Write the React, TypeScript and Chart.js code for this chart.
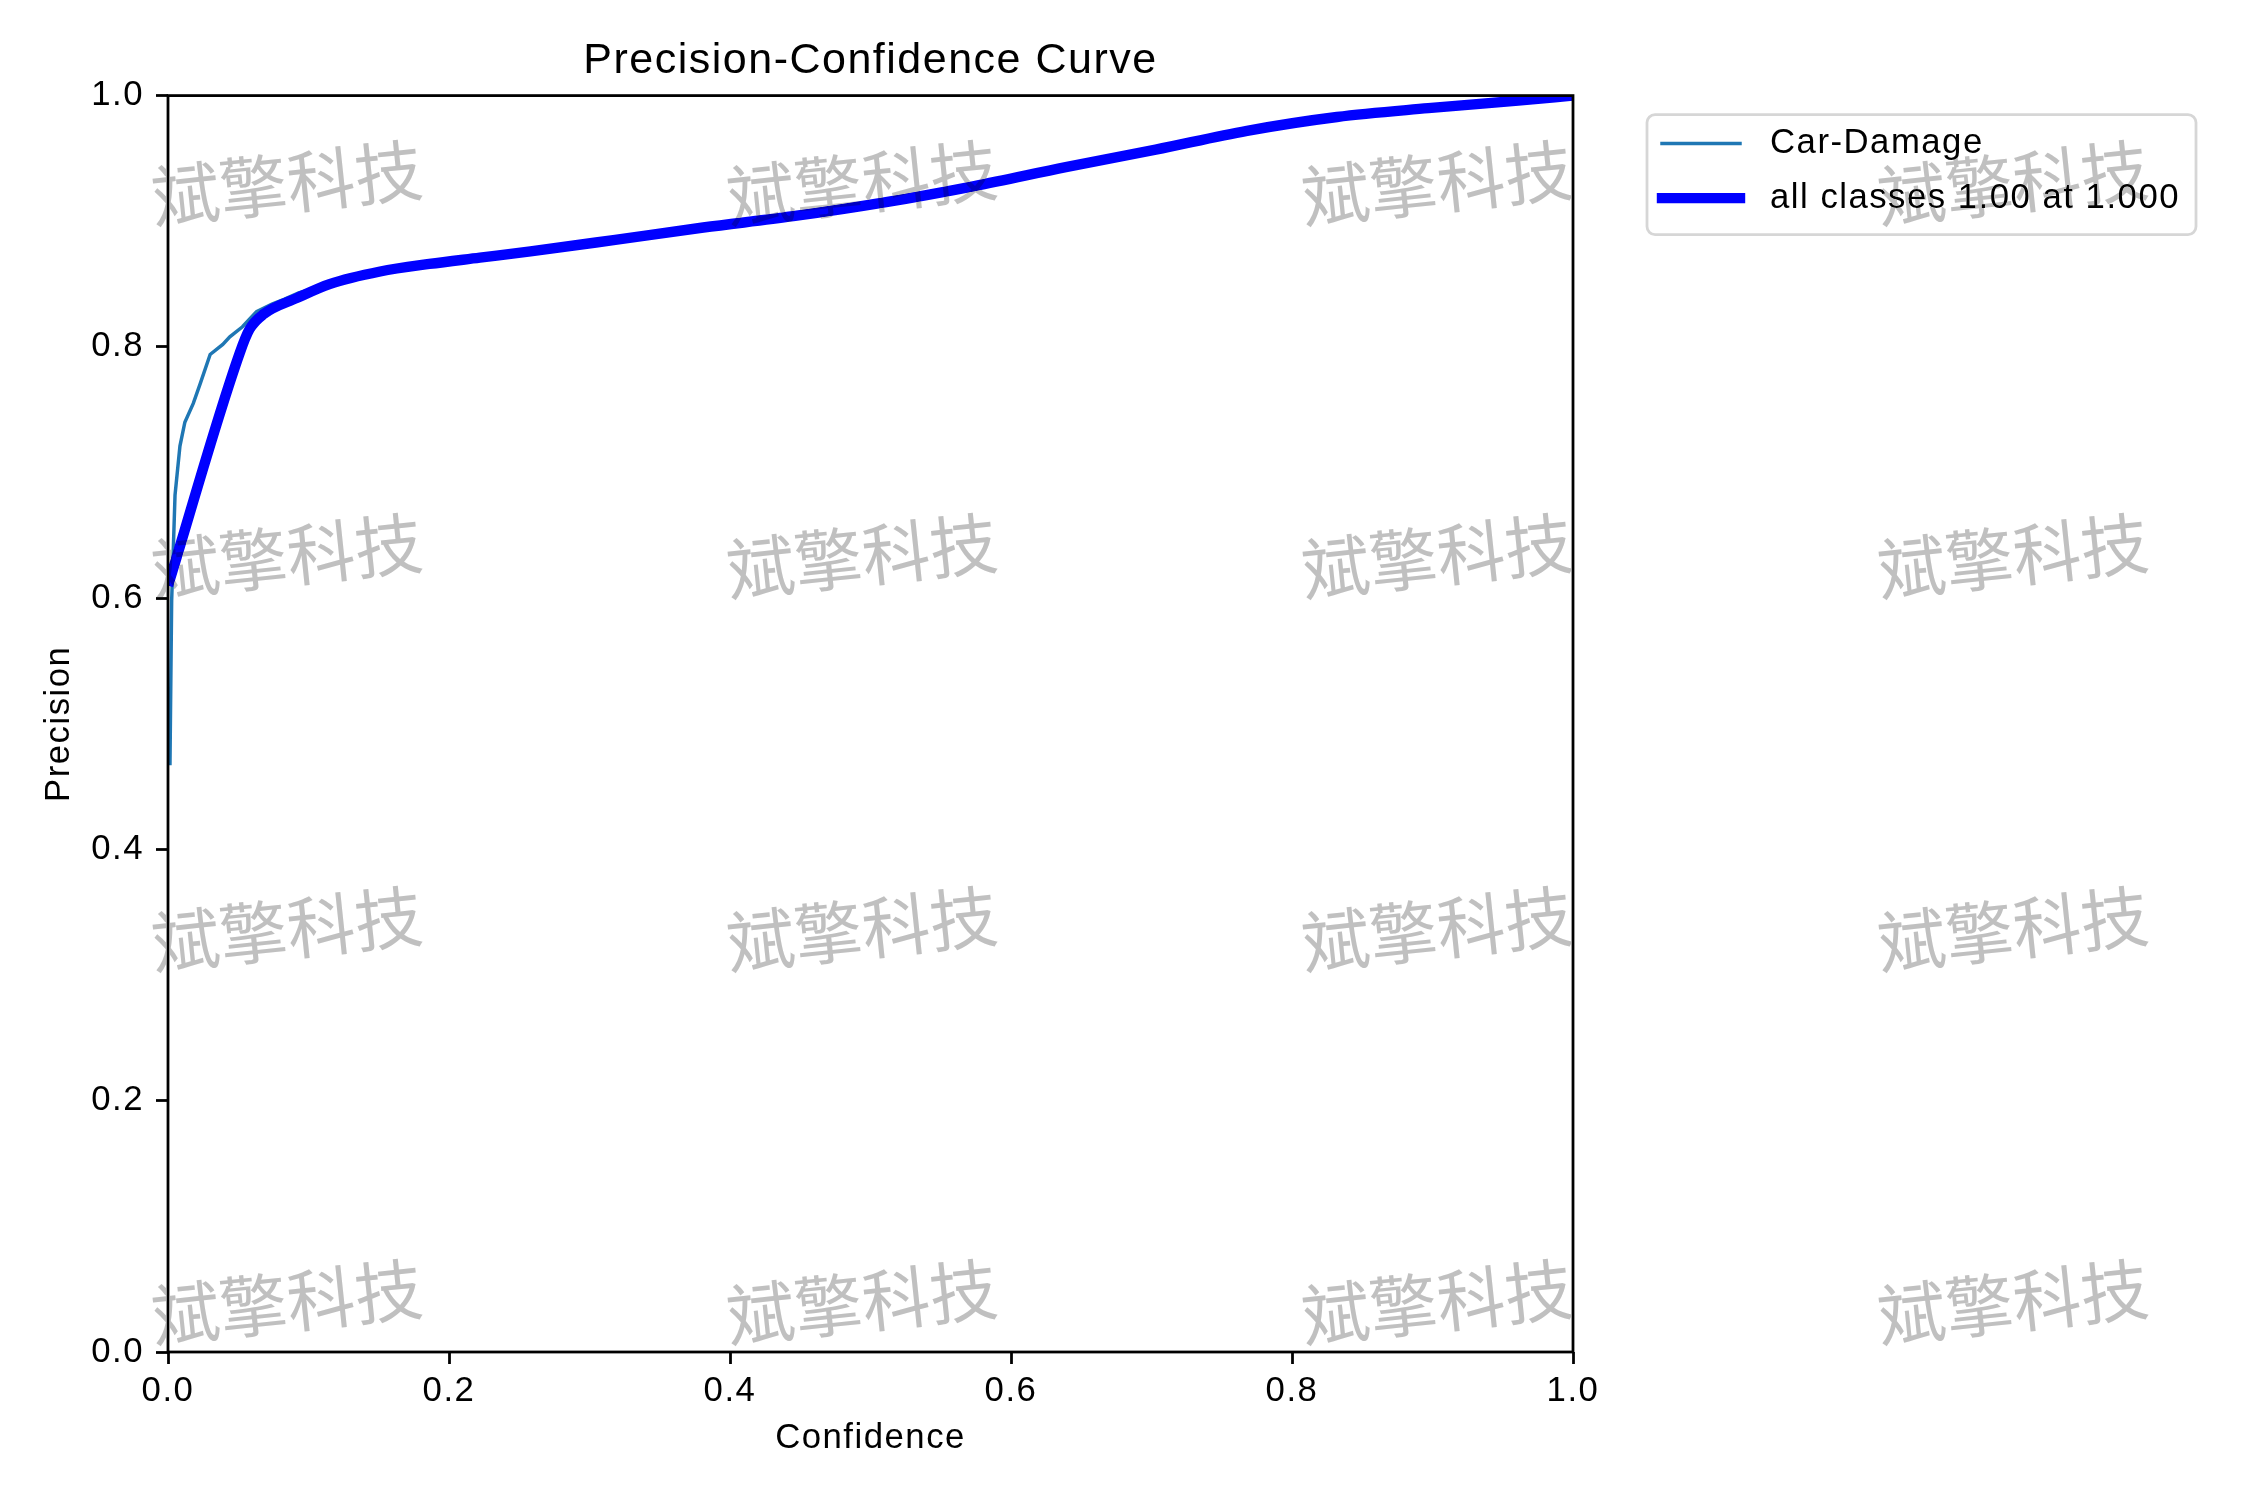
import { useEffect, useRef } from "react";
import { Chart, registerables } from "chart.js";

Chart.register(...registerables);

// values
const carDamageConf = [
  0.0014, 0.0026, 0.005, 0.0085, 0.012, 0.018, 0.023, 0.03, 0.039, 0.044, 0.053,
  0.063, 0.074, 0.083, 0.093, 0.115, 0.151, 0.186, 0.222, 0.258, 0.317, 0.381,
  0.445, 0.51, 0.574, 0.639, 0.703, 0.768, 0.832, 0.897, 0.961, 1.0,
];
const carDamagePrecision = [
  0.467, 0.598, 0.682, 0.721, 0.74, 0.755, 0.771, 0.794, 0.802, 0.808, 0.816,
  0.828, 0.834, 0.838, 0.843, 0.85, 0.86, 0.866, 0.871, 0.876, 0.885, 0.895,
  0.904, 0.915, 0.928, 0.943, 0.957, 0.972, 0.983, 0.99, 0.996, 1.0,
];
const allClassesConf = [
  0, 0.051, 0.058, 0.068, 0.092, 0.115, 0.151, 0.186, 0.222, 0.258, 0.317, 0.381,
  0.445, 0.51, 0.574, 0.639, 0.703, 0.768, 0.832, 0.897, 0.961, 1.0,
];
const allClassesPrecision = [
  0.61, 0.795, 0.814, 0.826, 0.839, 0.85, 0.86, 0.866, 0.871, 0.876, 0.885, 0.895,
  0.904, 0.915, 0.928, 0.943, 0.957, 0.972, 0.983, 0.99, 0.996, 1.0,
];
const xTicks = [0, 0.2, 0.4, 0.6, 0.8, 1.0];
const yTicks = [0, 0.2, 0.4, 0.6, 0.8, 1.0];

const WATERMARK = "斌擎科技";
const FONT = "'Liberation Sans', Arial, sans-serif";
const PT = 250 / 72; // matplotlib points -> px at 250 dpi

const bgPlugin = {
  id: "bg",
  beforeDraw(chart: Chart) {
    const ctx = chart.ctx as any;
    ctx.save();
    ctx.fillStyle = "#ffffff";
    ctx.fillRect(0, 0, chart.width, chart.height);
    ctx.restore();
    // reference text runs a little wider than Arial
    ctx.letterSpacing = "1.5px";
  },
};

// full axes box, drawn over the lines like matplotlib spines
const framePlugin = {
  id: "frame",
  afterDatasetsDraw(chart: Chart) {
    const { ctx, chartArea } = chart;
    ctx.save();
    ctx.strokeStyle = "#000000";
    ctx.lineWidth = 0.8 * PT;
    ctx.strokeRect(chartArea.left, chartArea.top, chartArea.width, chartArea.height);
    ctx.restore();
  },
};

const legendPlugin = {
  id: "mplLegend",
  afterDraw(chart: Chart) {
    const { ctx, chartArea } = chart;
    const left = chartArea.right + 74;
    const top = chartArea.top + 19;
    const w = 549;
    const h = 120;
    ctx.save();
    ctx.beginPath();
    ctx.roundRect(left, top, w, h, 8);
    ctx.fillStyle = "rgba(255,255,255,0.8)";
    ctx.fill();
    ctx.strokeStyle = "#d6d6d6";
    ctx.lineWidth = 0.8 * PT;
    ctx.stroke();
    chart.data.datasets.forEach((ds: any, i: number) => {
      const y = top + 29 + i * 54.5;
      ctx.beginPath();
      ctx.lineCap = "square";
      ctx.strokeStyle = ds.borderColor;
      ctx.lineWidth = ds.borderWidth;
      ctx.moveTo(left + 15, y);
      ctx.lineTo(left + 93, y);
      ctx.stroke();
      ctx.fillStyle = "#000000";
      ctx.font = `${10 * PT}px ${FONT}`;
      ctx.textAlign = "left";
      ctx.textBaseline = "middle";
      ctx.fillText(ds.label, left + 123, y);
    });
    ctx.restore();
  },
};

const watermarkPlugin = {
  id: "watermark",
  afterDraw(chart: Chart) {
    const ctx = chart.ctx as any;
    const cols = [287, 862, 1437, 2013];
    const rows = [183, 556, 929, 1302];
    ctx.save();
    ctx.letterSpacing = "0px";
    ctx.globalCompositeOperation = "darken";
    ctx.fillStyle = "#c0c0c0";
    ctx.font = "68px 'Noto Sans CJK SC'";
    ctx.textAlign = "center";
    ctx.textBaseline = "middle";
    rows.forEach((ry) => {
      cols.forEach((cx) => {
        ctx.save();
        ctx.translate(cx, ry);
        ctx.rotate((-6 * Math.PI) / 180);
        ctx.fillText(WATERMARK, 0, 0);
        ctx.restore();
      });
    });
    ctx.restore();
  },
};

export default function App() {
  const chartRef = useRef<HTMLCanvasElement | null>(null);

  useEffect(() => {
    const canvas = chartRef.current;
    if (!canvas) return;
    document.body.style.margin = "0";

    const tickFont = { family: FONT, size: 10 * PT };

    const chart = new Chart(canvas, {
      type: "line",
      data: {
        datasets: [
          {
            label: "Car-Damage",
            data: carDamageConf.map((x, i) => ({ x, y: carDamagePrecision[i] })),
            borderColor: "#1f77b4",
            borderWidth: 1 * PT,
            pointRadius: 0,
            tension: 0,
            clip: 0,
            order: 2,
          },
          {
            label: "all classes 1.00 at 1.000",
            data: allClassesConf.map((x, i) => ({ x, y: allClassesPrecision[i] })),
            borderColor: "#0000ff",
            borderWidth: 3 * PT,
            borderJoinStyle: "round",
            pointRadius: 0,
            cubicInterpolationMode: "monotone",
            clip: 0,
            order: 1,
          },
        ],
      },
      options: {
        responsive: false,
        animation: false,
        devicePixelRatio: 1,
        layout: { padding: { left: 0, right: 677, top: 0, bottom: 0 } },
        plugins: {
          legend: { display: false },
          tooltip: { enabled: false },
          title: {
            display: true,
            text: "Precision-Confidence Curve",
            fullSize: false,
            color: "#000000",
            font: { family: FONT, size: 43, weight: "normal" },
            padding: { top: 35, bottom: 9 },
          },
        },
        scales: {
          x: {
            type: "linear",
            min: 0,
            max: 1,
            afterBuildTicks: (scale: any) => {
              scale.ticks = xTicks.map((value) => ({ value }));
            },
            afterFit: (scale: any) => {
              scale.height = 148;
            },
            ticks: {
              autoSkip: false,
              maxRotation: 0,
              padding: 7,
              color: "#000000",
              font: tickFont,
              callback: (v: any) => Number(v).toFixed(1),
            },
            grid: {
              drawOnChartArea: false,
              tickLength: 12,
              tickWidth: 0.8 * PT,
              tickColor: "#000000",
            },
            border: { display: false },
            title: {
              display: true,
              text: "Confidence",
              color: "#000000",
              font: tickFont,
              padding: { top: 0, bottom: 41 },
            },
          },
          y: {
            type: "linear",
            min: 0,
            max: 1,
            afterBuildTicks: (scale: any) => {
              scale.ticks = yTicks.map((value) => ({ value }));
            },
            afterFit: (scale: any) => {
              scale.width = 168;
            },
            ticks: {
              autoSkip: false,
              padding: 12,
              color: "#000000",
              font: tickFont,
              callback: (v: any) => Number(v).toFixed(1),
            },
            grid: {
              drawOnChartArea: false,
              tickLength: 12,
              tickWidth: 0.8 * PT,
              tickColor: "#000000",
            },
            border: { display: false },
            title: {
              display: true,
              text: "Precision",
              color: "#000000",
              font: tickFont,
              padding: { top: 39, bottom: 0 },
            },
          },
        },
      },
      plugins: [bgPlugin, framePlugin, legendPlugin, watermarkPlugin],
    } as any);

    return () => {
      chart.destroy();
    };
  }, []);

  return (
    <div style={{ width: 2250, height: 1500 }}>
      <canvas ref={chartRef} width={2250} height={1500} />
    </div>
  );
}
